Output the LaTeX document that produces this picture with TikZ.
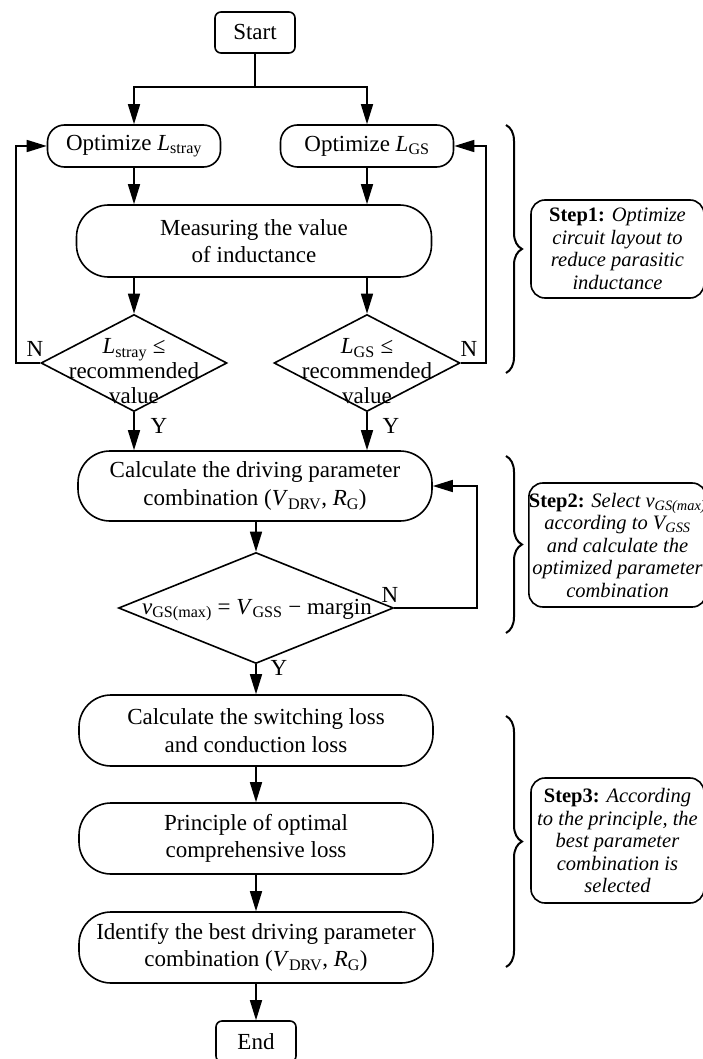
\documentclass[tikz,border=0pt]{standalone}
\usepackage{fontspec}
\setmainfont{Liberation Serif}
\usetikzlibrary{arrows.meta,shapes.geometric,decorations.pathreplacing}
\begin{document}
\begin{tikzpicture}[x=1pt,y=-1pt,
  mainf/.style={font=\fontsize{23}{27.5}\selectfont},
  termbox/.style={draw,line width=1.6pt,rounded corners=6pt,minimum width=80pt,minimum height=41pt,inner sep=0pt,mainf},
  optbox/.style={draw,line width=1.6pt,rounded corners=17pt,minimum width=173pt,minimum height=42pt,inner sep=0pt,mainf},
  bigbox/.style={draw,line width=1.6pt,rounded corners=32pt,minimum width=354pt,minimum height=71pt,inner sep=0pt,align=center,mainf},
  dia/.style={draw,diamond,line width=1.6pt,inner sep=0pt},
  diatext/.style={inner sep=0pt,align=center,font=\fontsize{23}{25}\selectfont},
  lbl/.style={inner sep=0pt,mainf},
  stepbox/.style={draw,line width=1.6pt,rounded corners=14pt,minimum width=173pt,inner sep=0pt,align=center,font=\fontsize{20.5}{22.5}\selectfont},
  arr/.style={line width=1.6pt,-{Triangle[length=20pt,width=12pt]}},
  ln/.style={line width=1.6pt},
  brc/.style={line width=2pt,decorate,decoration={brace,amplitude=16pt}}
]
\useasboundingbox (0,0) rectangle (702,1059);

% nodes
\node[termbox] (start) at (255,32.5) {Start};
\coordinate (split) at (255,87);
\node[optbox] (opt1) at (134,146) {Optimize \textit{L}\textsubscript{stray}};
\node[optbox] (opt2) at (367,146) {Optimize \textit{L}\textsubscript{GS}};
\node[bigbox,minimum width=355pt,minimum height=72pt] (meas) at (254,241) {Measuring the value\\of inductance};
\node[dia,minimum width=186pt,minimum height=97pt] (d1) at (134,363) {};
\node[diatext] (d1t) at (134,371) {\textit{L}\textsubscript{stray} ≤\\recommended\\value};
\node[dia,minimum width=186pt,minimum height=97pt] (d2) at (367,363) {};
\node[diatext] (d2t) at (367,371) {\textit{L}\textsubscript{GS} ≤\\recommended\\value};
\node[bigbox,minimum height=70pt] (calc) at (255,486) {Calculate the driving parameter\\combination (\textit{V}\textsubscript{DRV}, \textit{R}\textsubscript{G})};
\node[dia,minimum width=275pt,minimum height=111pt] (dv) at (256,608) {};
\node[lbl] (dvt) at (257,610) {\textit{v}\textsubscript{GS(max)} = \textit{V}\textsubscript{GSS} − margin};
\node[bigbox] (sw) at (256,730.5) {Calculate the switching loss\\and conduction loss};
\node[bigbox] (pr) at (256,838.5) {Principle of optimal\\comprehensive loss};
\node[bigbox] (id) at (256,947.5) {Identify the best driving parameter\\combination (\textit{V}\textsubscript{DRV}, \textit{R}\textsubscript{G})};
\node[termbox] (end) at (256,1041.5) {End};

% labels
\node[lbl] (n1) at (35,349) {N};
\node[lbl] (n2) at (469,349) {N};
\node[lbl] (y1) at (159,426) {Y};
\node[lbl] (y2) at (391,426) {Y};
\node[lbl] (n3) at (390,595) {N};
\node[lbl] (y3) at (279,668) {Y};

% connectors
\draw[ln] (start.south) -- (split);
\draw[arr] (split) -| (opt1.north);
\draw[arr] (split) -| (opt2.north);
\draw[arr] (opt1.south) -- (opt1.south |- meas.north);
\draw[arr] (opt2.south) -- (opt2.south |- meas.north);
\draw[arr] (d1.north |- meas.south) -- (d1.north);
\draw[arr] (d2.north |- meas.south) -- (d2.north);
\coordinate (fbl) at (16,0);
\coordinate (fbr) at (486,0);
\draw[arr] (d1.west) -- (d1.west -| fbl) |- (opt1.west);
\draw[arr] (d2.east) -- (d2.east -| fbr) |- (opt2.east);
\draw[arr] (d1.south) -- (d1.south |- calc.north);
\draw[arr] (d2.south) -- (d2.south |- calc.north);
\draw[arr] (calc.south -| dv.north) -- (dv.north);
\coordinate (fbv) at (477,0);
\draw[arr] (dv.east) -- (dv.east -| fbv) |- (calc.east);
\draw[arr] (dv.south) -- (dv.south |- sw.north);
\draw[arr] (sw.south) -- (pr.north);
\draw[arr] (pr.south) -- (id.north);
\draw[arr] (id.south) -- (end.north);

% braces and step boxes
\coordinate (b1t) at (506,125);
\coordinate (b1b) at (506,373);
\draw[brc] (b1t) -- (b1b);
\node[stepbox,minimum height=98pt] (s1) at (617.5,249) {\textbf{Step1:} \textit{Optimize}\\\textit{circuit layout to}\\\textit{reduce parasitic}\\\textit{inductance}};
\coordinate (b2t) at (506,456);
\coordinate (b2b) at (506,633);
\draw[brc] (b2t) -- (b2b);
\node[stepbox,minimum height=124pt] (s2) at (617.5,545) {\textbf{Step2:} \textit{Select v\textsubscript{GS(max)}}\\\textit{according to V\textsubscript{GSS}}\\\textit{and calculate the}\\\textit{optimized parameter}\\\textit{combination}};
\coordinate (b3t) at (506,716);
\coordinate (b3b) at (506,967);
\draw[brc] (b3t) -- (b3b);
\node[stepbox,minimum height=125pt] (s3) at (617.5,840.5) {\textbf{Step3:} \textit{According}\\\textit{to the principle, the}\\\textit{best parameter}\\\textit{combination is}\\\textit{selected}};
\end{tikzpicture}
\end{document}
